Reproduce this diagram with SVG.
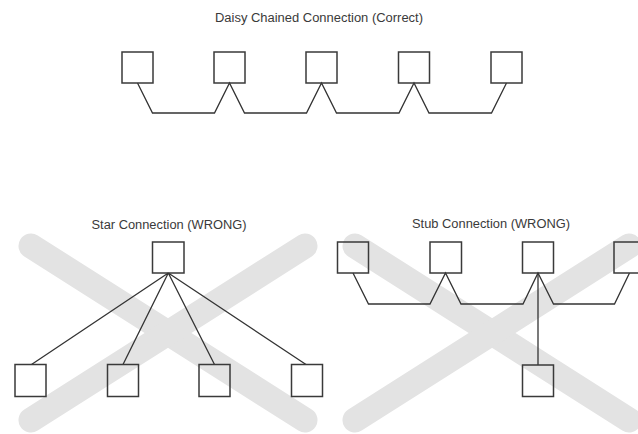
<svg xmlns="http://www.w3.org/2000/svg" width="638" height="434" viewBox="0 0 638 434">
<style>
.bg{fill:#ffffff}
.xmark{stroke:#e3e3e3;stroke-width:25;stroke-linecap:round;fill:none}
.box{fill:none;stroke:#3a3a3a;stroke-width:1.5}
.wire{fill:none;stroke:#333333;stroke-width:1.3;stroke-linejoin:miter}
.title{font-family:"Liberation Sans",Arial,sans-serif;font-size:12px;fill:#3a3a3a;text-anchor:middle}
</style>
<rect class="bg" x="0" y="0" width="638" height="434"/>
<g id="cross-marks">
<line class="xmark" x1="31" y1="246" x2="305" y2="420"/>
<line class="xmark" x1="305" y1="246" x2="31" y2="420"/>
<line class="xmark" x1="355" y1="246" x2="629" y2="420"/>
<line class="xmark" x1="629" y1="246" x2="355" y2="420"/>
</g>
<g id="titles">
<text class="title" x="319" y="21.5" textLength="208" lengthAdjust="spacingAndGlyphs">Daisy Chained Connection (Correct)</text>
<text class="title" x="169" y="228.5" textLength="155" lengthAdjust="spacingAndGlyphs">Star Connection (WRONG)</text>
<text class="title" x="491" y="228" textLength="158" lengthAdjust="spacingAndGlyphs">Stub Connection (WRONG)</text>
</g>
<g id="connectors">
<path class="wire" d="M137.5,83 L152.5,113 L214.5,113 L229.5,83 L244.5,113 L306.5,113 L321.5,83 L336.5,113 L399,113 L414,83 L429,113 L491.5,113 L506.5,83"/>
<path class="wire" d="M168.3,273 L31.5,364.5 M168.3,273 L123,364.5 M168.3,273 L214.5,364.5 M168.3,273 L306,364.5"/>
<path class="wire" d="M353,273 L368.5,304 L430,304 L445.5,273 L461,304 L523,304 L538,273 L553.5,304 L614.5,304 L629.5,273"/>
<path class="wire" d="M538,273 L538,365"/>
</g>
<g id="dc-node-1"><rect class="box" x="122" y="52" width="31" height="31"/></g>
<g id="dc-node-2"><rect class="box" x="214" y="52" width="31" height="31"/></g>
<g id="dc-node-3"><rect class="box" x="306" y="52" width="31" height="31"/></g>
<g id="dc-node-4"><rect class="box" x="398.5" y="52" width="31" height="31"/></g>
<g id="dc-node-5"><rect class="box" x="491" y="52" width="31" height="31"/></g>
<g id="star-hub"><rect class="box" x="152.5" y="242" width="31.5" height="31"/></g>
<g id="star-node-1"><rect class="box" x="15" y="364.5" width="31" height="32"/></g>
<g id="star-node-2"><rect class="box" x="107.5" y="364.5" width="31" height="32"/></g>
<g id="star-node-3"><rect class="box" x="199" y="364.5" width="31" height="32"/></g>
<g id="star-node-4"><rect class="box" x="291.5" y="364.5" width="31" height="32"/></g>
<g id="stub-node-1"><rect class="box" x="337.5" y="242" width="31" height="31"/></g>
<g id="stub-node-2"><rect class="box" x="430" y="242" width="31.5" height="31"/></g>
<g id="stub-node-3"><rect class="box" x="522.5" y="242" width="31" height="31"/></g>
<g id="stub-node-4"><rect class="box" x="614" y="242" width="31" height="31"/></g>
<g id="stub-node-5"><rect class="box" x="522.5" y="365" width="31" height="31.5"/></g>
</svg>
